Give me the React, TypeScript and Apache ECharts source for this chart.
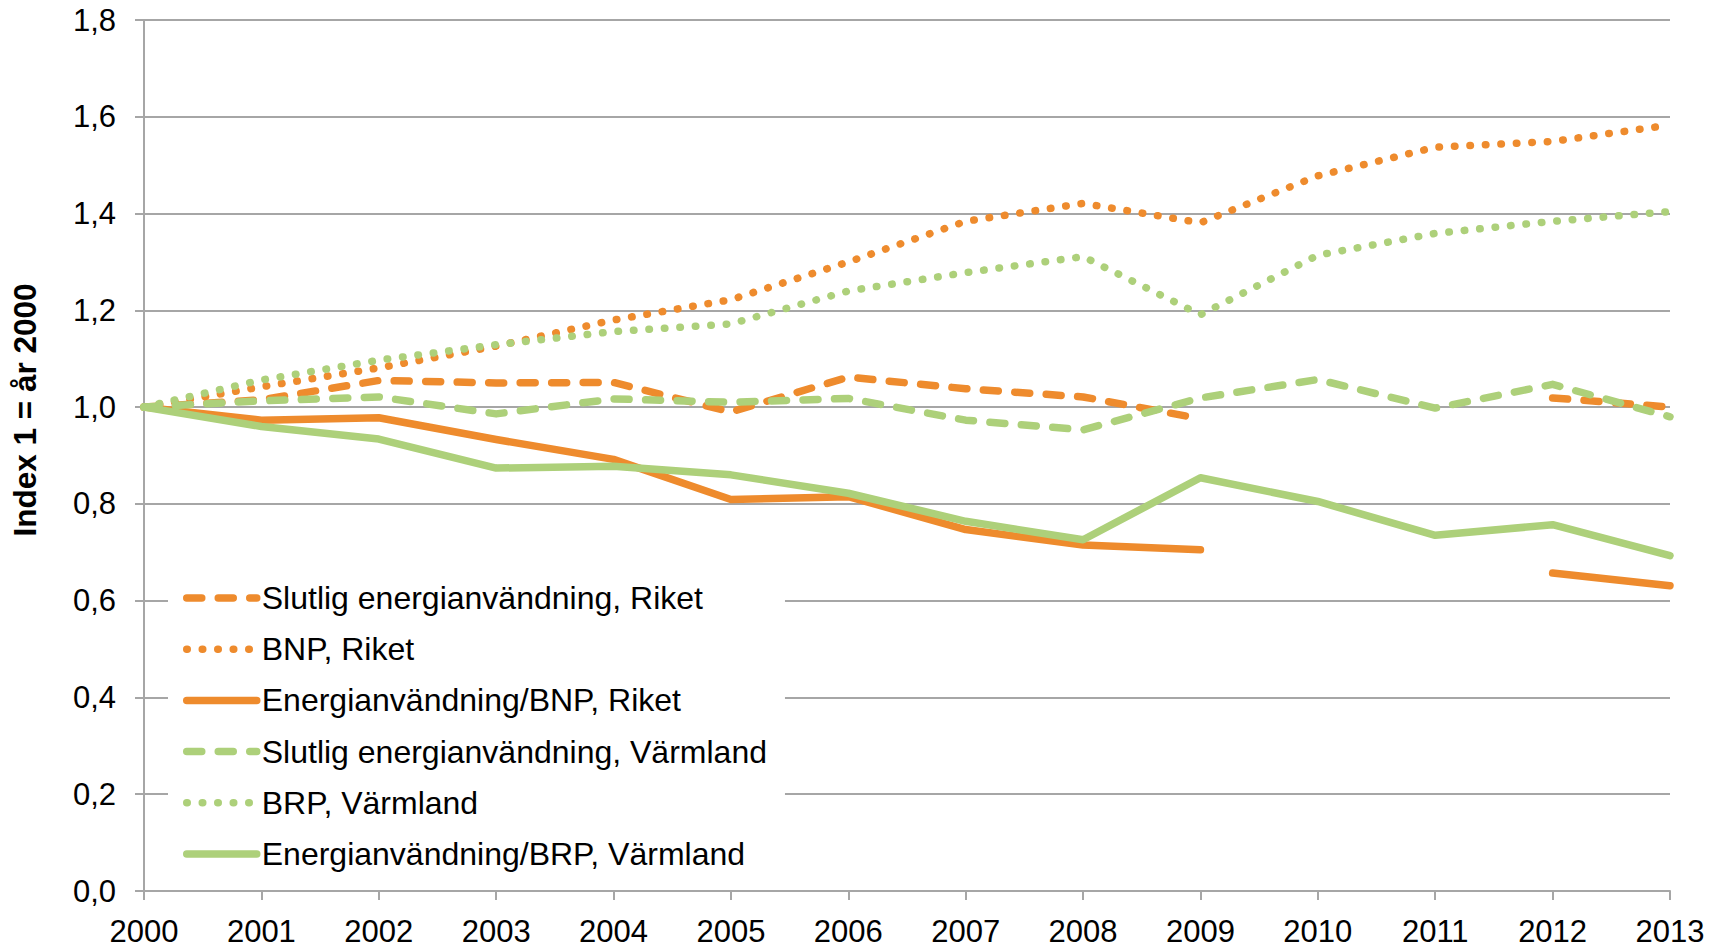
import React, { useEffect, useRef } from "react";
import * as echarts from "echarts";

const years = ["2000","2001","2002","2003","2004","2005","2006","2007","2008","2009","2010","2011","2012","2013"];

const slutligRiket = [1.0, 1.015, 1.055, 1.05, 1.051, 0.99, 1.062, 1.038, 1.021, 0.976, null, null, 1.019, 1.0];
const bnpRiket = [1.0, 1.042, 1.081, 1.126, 1.18, 1.222, 1.3, 1.384, 1.421, 1.381, 1.478, 1.537, 1.549, 1.583];
const energiBnpRiket = [1.0, 0.973, 0.978, 0.933, 0.892, 0.809, 0.815, 0.747, 0.715, 0.705, null, null, 0.657, 0.631];
const slutligVarmland = [1.0, 1.013, 1.021, 0.986, 1.017, 1.01, 1.018, 0.973, 0.953, 1.019, 1.057, 0.998, 1.047, 0.98];
const brpVarmland = [1.0, 1.056, 1.097, 1.129, 1.156, 1.172, 1.24, 1.278, 1.311, 1.191, 1.314, 1.359, 1.384, 1.404];
const energiBrpVarmland = [1.0, 0.96, 0.934, 0.874, 0.878, 0.86, 0.822, 0.764, 0.726, 0.854, 0.805, 0.735, 0.757, 0.693];

const seriesNames = [
  "Slutlig energianvändning, Riket",
  "BNP, Riket",
  "Energianvändning/BNP, Riket",
  "Slutlig energianvändning, Värmland",
  "BRP, Värmland",
  "Energianvändning/BRP, Värmland",
];

const ORANGE = "#EE8B2D";
const GREEN = "#ADD07A";
const GRID = "#A6A6A6";
const FONT = "'Liberation Sans', Arial, sans-serif";
const LW = 7.5;

const dashed = [15, 16.5];
const dotted = [0.5, 15];

export default function App() {
  const ref = useRef<HTMLDivElement>(null);

  useEffect(() => {
    if (!ref.current) return;
    const chart = echarts.init(ref.current, undefined, { renderer: "svg" });

    const mk = (name: string, data: (number | null)[], color: string, type: any) => ({
      name,
      type: "line",
      data,
      symbol: "none",
      showSymbol: false,
      connectNulls: false,
      color,
      lineStyle: { color, width: LW, type, cap: "round", join: "round" },
      emphasis: { disabled: true },
    });

    chart.setOption({
      animation: false,
      backgroundColor: "#ffffff",
      grid: { left: 144, right: 55, top: 20, bottom: 57, containLabel: false },
      xAxis: {
        type: "category",
        data: years,
        boundaryGap: false,
        axisLine: { show: true, lineStyle: { color: GRID, width: 2 } },
        axisTick: { show: true, length: 9, lineStyle: { color: GRID, width: 2 } },
        axisLabel: { color: "#000", fontSize: 31, fontFamily: FONT, margin: 25 },
        splitLine: { show: false },
      },
      yAxis: {
        type: "value",
        min: 0,
        max: 1.8,
        interval: 0.2,
        axisLine: { show: true, lineStyle: { color: GRID, width: 2 } },
        axisTick: { show: true, length: 9, lineStyle: { color: GRID, width: 2 } },
        axisLabel: {
          color: "#000",
          fontSize: 31,
          fontFamily: FONT,
          margin: 28,
          formatter: (v: number) => v.toFixed(1).replace(".", ","),
        },
        splitLine: { show: true, lineStyle: { color: GRID, width: 2 } },
      },
      legend: {
        orient: "vertical",
        left: 168,
        top: 568,
        padding: [14, 18, 14, 15],
        backgroundColor: "#ffffff",
        itemWidth: 70,
        itemHeight: 30,
        itemGap: 19.2,
        data: seriesNames,
        selectedMode: false,
        itemStyle: { opacity: 0 },
        lineStyle: { width: LW },
        textStyle: { color: "#000", fontSize: 32, fontFamily: FONT, lineHeight: 30 },
      },
      graphic: [
        {
          type: "text",
          x: 25,
          y: 410,
          rotation: Math.PI / 2,
          style: {
            text: "Index 1 = år 2000",
            fontSize: 31.5,
            fontWeight: "bold",
            fontFamily: FONT,
            fill: "#000",
            align: "center",
            verticalAlign: "middle",
          },
        },
      ],
      series: [
        mk(seriesNames[0], slutligRiket, ORANGE, dashed),
        mk(seriesNames[1], bnpRiket, ORANGE, dotted),
        mk(seriesNames[2], energiBnpRiket, ORANGE, "solid"),
        mk(seriesNames[3], slutligVarmland, GREEN, dashed),
        mk(seriesNames[4], brpVarmland, GREEN, dotted),
        mk(seriesNames[5], energiBrpVarmland, GREEN, "solid"),
      ],
    });

    return () => chart.dispose();
  }, []);

  return (
    <div
      ref={ref}
      style={{ position: "fixed", left: 0, top: 0, width: 1725, height: 948, background: "#fff" }}
    />
  );
}
